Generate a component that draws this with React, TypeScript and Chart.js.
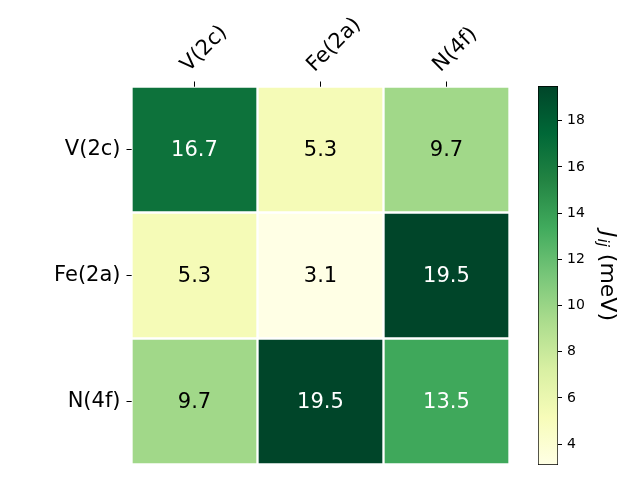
import React, { useEffect, useRef } from "react";
import { Chart, registerables } from "chart.js";

Chart.register(...registerables);

const columns = ["V(2c)", "Fe(2a)", "N(4f)"];
const rows = ["V(2c)", "Fe(2a)", "N(4f)"];
const rowV2c = [16.7, 5.3, 9.7];
const rowFe2a = [5.3, 3.1, 19.5];
const rowN4f = [9.7, 19.5, 13.5];
const values = [rowV2c, rowFe2a, rowN4f];
const vmin = 3.1;
const vmax = 19.5;
const colorbarTicks = [4, 6, 8, 10, 12, 14, 16, 18];

const YLGN = ["#ffffe5", "#f7fcb9", "#d9f0a3", "#addd8e", "#78c679", "#41ab5d", "#238443", "#006837", "#004529"];
const FONT = "'DejaVu Sans', sans-serif";

function hexToRgb(h: string) {
  return [parseInt(h.slice(1, 3), 16), parseInt(h.slice(3, 5), 16), parseInt(h.slice(5, 7), 16)];
}
function cmap(v: number) {
  const t = Math.min(1, Math.max(0, (v - vmin) / (vmax - vmin)));
  const p = t * (YLGN.length - 1);
  const i = Math.min(YLGN.length - 2, Math.floor(p));
  const f = p - i;
  const a = hexToRgb(YLGN[i]);
  const b = hexToRgb(YLGN[i + 1]);
  const c = a.map((x, k) => Math.round(x + (b[k] - x) * f));
  return `rgb(${c[0]},${c[1]},${c[2]})`;
}

const annotatePlugin = {
  id: "annotate",
  afterDatasetsDraw(chart: any) {
    const ctx = chart.ctx;
    ctx.save();
    ctx.font = `21px ${FONT}`;
    ctx.textAlign = "center";
    ctx.textBaseline = "middle";
    chart.data.datasets.forEach((ds: any, r: number) => {
      const meta = chart.getDatasetMeta(r);
      meta.data.forEach((el: any, c: number) => {
        const v = values[r][c];
        const p = el.getCenterPoint();
        ctx.fillStyle = v > (vmin + vmax) / 2 ? "#ffffff" : "#000000";
        ctx.fillText(v.toFixed(1), p.x, p.y + 1);
      });
    });
    ctx.restore();
  },
};

const cbTitlePlugin = {
  id: "cbTitle",
  afterDraw(chart: any) {
    const ctx = chart.ctx;
    const area = chart.chartArea;
    ctx.save();
    const cx = 87;
    const cy = (area.top + area.bottom) / 2;
    ctx.translate(cx, cy);
    ctx.rotate(Math.PI / 2);
    ctx.fillStyle = "#000";
    ctx.textBaseline = "middle";
    const big = `italic 22px ${FONT}`;
    const small = `italic 15px ${FONT}`;
    const norm = `22px ${FONT}`;
    ctx.font = big;
    const wJ = ctx.measureText("J").width;
    ctx.font = small;
    const wij = ctx.measureText("ij").width;
    ctx.font = norm;
    const wRest = ctx.measureText(" (meV)").width;
    const total = wJ + wij + wRest;
    let x = -total / 2;
    ctx.textAlign = "left";
    ctx.font = big;
    ctx.fillText("J", x, 0);
    x += wJ + 1;
    ctx.font = small;
    ctx.fillText("ij", x, 5);
    x += wij;
    ctx.font = norm;
    ctx.fillText(" (meV)", x, 0);
    ctx.restore();
  },
};

function zeroPad(s: any) {
  s.paddingTop = 0;
  s.paddingBottom = 0;
  s.paddingLeft = 0;
  s.paddingRight = 0;
}

export default function App() {
  const mainRef = useRef<HTMLCanvasElement>(null);
  const cbRef = useRef<HTMLCanvasElement>(null);

  useEffect(() => {
    const main = new Chart(mainRef.current!, {
      type: "bar",
      data: {
        labels: columns,
        datasets: rows.map((name, r) => ({
          label: name,
          data: columns.map(() => [r - 0.5, r + 0.5]),
          backgroundColor: values[r].map((v) => cmap(v)),
          borderColor: "#ffffff",
          borderWidth: 1.5,
          borderSkipped: false,
          grouped: false,
          barPercentage: 1,
          categoryPercentage: 1,
        })) as any,
      },
      options: {
        animation: false,
        responsive: false,
        devicePixelRatio: 1,
        layout: { padding: { left: 0, right: 20.5, top: 0, bottom: 15.5 } },
        plugins: { legend: { display: false }, tooltip: { enabled: false } },
        scales: {
          x: {
            position: "top",
            grid: { drawOnChartArea: false, offset: false, color: "#000", tickLength: 5, tickWidth: 1 },
            border: { display: false },
            ticks: {
              color: "#000",
              font: { family: FONT, size: 21 },
              maxRotation: 45,
              minRotation: 45,
              padding: 4,
              labelOffset: 8,
            },
            afterFit: (s: any) => {
              s.height = 86.5;
              zeroPad(s);
            },
          },
          y: {
            type: "linear",
            reverse: true,
            min: -0.5,
            max: 2.5,
            grid: { drawOnChartArea: false, color: "#000", tickLength: 5, tickWidth: 1 },
            border: { display: false },
            afterBuildTicks: (s: any) => {
              s.ticks = rows.map((_, i) => ({ value: i }));
            },
            ticks: {
              color: "#000",
              font: { family: FONT, size: 21 },
              padding: 6,
              callback: (v: any) => rows[Math.round(Number(v))],
            },
            afterFit: (s: any) => {
              s.width = 131.5;
              zeroPad(s);
            },
          },
        },
      } as any,
      plugins: [annotatePlugin],
    });

    const cb = new Chart(cbRef.current!, {
      type: "bar",
      data: {
        labels: ["cb"],
        datasets: [
          {
            data: [[vmin, vmax]],
            backgroundColor: (c: any) => {
              const ch = c.chart;
              const a = ch.chartArea;
              if (!a) return YLGN[0];
              const g = ch.ctx.createLinearGradient(0, a.bottom, 0, a.top);
              YLGN.forEach((col, i) => g.addColorStop(i / (YLGN.length - 1), col));
              return g;
            },
            borderColor: "#000",
            borderWidth: 1,
            borderSkipped: false,
            barPercentage: 1,
            categoryPercentage: 1,
          },
        ] as any,
      },
      options: {
        animation: false,
        responsive: false,
        devicePixelRatio: 1,
        layout: { padding: { left: 18, right: 0, top: 86, bottom: 15 } },
        plugins: { legend: { display: false }, tooltip: { enabled: false } },
        scales: {
          x: { display: false },
          y: {
            position: "right",
            min: vmin,
            max: vmax,
            grid: { drawOnChartArea: false, color: "#000", tickLength: 4, tickWidth: 1 },
            border: { display: false },
            afterBuildTicks: (s: any) => {
              s.ticks = colorbarTicks.map((v) => ({ value: v }));
            },
            ticks: { color: "#000", font: { family: FONT, size: 14 }, padding: 5 },
            afterFit: (s: any) => {
              s.width = 82;
              zeroPad(s);
            },
          },
        },
      } as any,
      plugins: [cbTitlePlugin],
    });

    return () => {
      main.destroy();
      cb.destroy();
    };
  }, []);

  return (
    <div style={{ position: "fixed", left: 0, top: 0, width: 640, height: 480, background: "#fff" }}>
      <canvas ref={mainRef} width={530} height={480} style={{ position: "absolute", left: 0, top: 0, width: 530, height: 480 }} />
      <canvas ref={cbRef} width={120} height={480} style={{ position: "absolute", left: 520, top: 0, width: 120, height: 480 }} />
    </div>
  );
}
